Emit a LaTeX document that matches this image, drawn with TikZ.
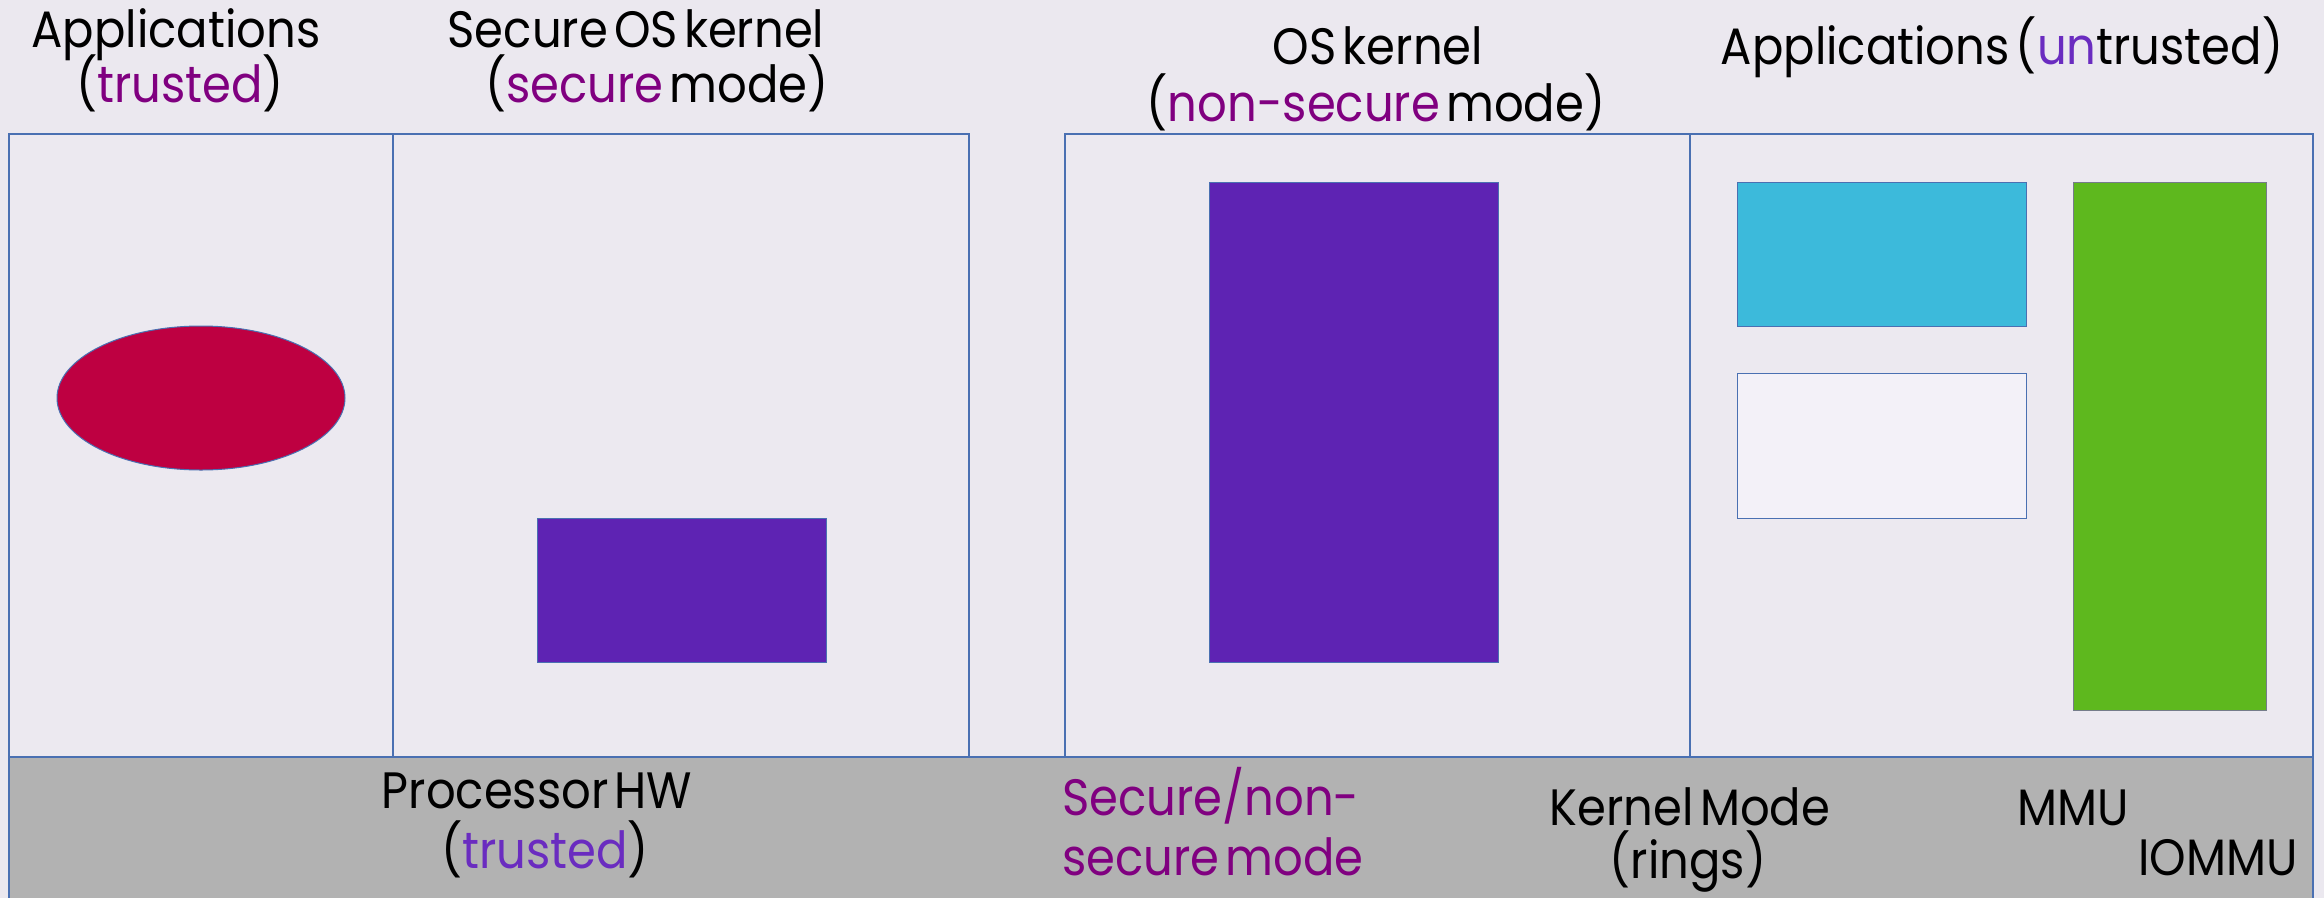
\documentclass[tikz,border=0pt]{standalone}
\usepackage{graphicx}
\usepackage{fontspec}
\setmainfont{Poppins}[WordSpace=0.5]
\definecolor{bg}{HTML}{EBE8EF}
\definecolor{boxfill}{HTML}{ECE9F0}
\definecolor{edge}{HTML}{4A70B2}
\definecolor{hwgray}{HTML}{B2B2B2}
\definecolor{violetfill}{HTML}{5E23B3}
\definecolor{redfill}{HTML}{BE0041}
\definecolor{cyanfill}{HTML}{3CBADB}
\definecolor{greenfill}{HTML}{5EB81E}
\definecolor{palefill}{HTML}{F3F1F8}
\definecolor{txtpurple}{HTML}{800080}
\definecolor{txtviolet}{HTML}{6A2CC0}
\newcommand\tallt[1]{\scalebox{1}[1.1]{#1}}
\begin{document}
\begin{tikzpicture}[x=1pt,y=-1pt,
  lbl/.style={anchor=base,inner sep=0pt,font=\fontsize{46.5}{56}\selectfont},
  lblw/.style={lbl,anchor=base west},
  frame/.style={draw=edge,line width=1.5pt},
  inshape/.style={draw=edge,line width=1pt}]
\useasboundingbox[fill=bg] (0,0) rectangle (2324,898);
% top boxes
\draw[frame,fill=boxfill] (9,134) rectangle (969,757);
\draw[frame] (393,134) -- (393,757);
\draw[frame,fill=boxfill] (1065,134) rectangle (2313,757);
\draw[frame] (1690,134) -- (1690,757);
% processor band
\fill[hwgray] (9,757) rectangle (2313,898);
\draw[frame,line width=2.5pt] (9,757) -- (2313,757);
\draw[frame] (9,757) -- (9,898);
\draw[frame] (2313,757) -- (2313,898);
% inner shapes
\draw[inshape,fill=redfill] (201,398) ellipse [x radius=144, y radius=72];
\draw[inshape,fill=violetfill] (537,518) rectangle (826,662);
\draw[inshape,fill=violetfill] (1209,182) rectangle (1498,662);
\draw[inshape,fill=cyanfill] (1737,182) rectangle (2026,326);
\draw[inshape,fill=palefill] (1737,373) rectangle (2026,518);
\draw[inshape,draw=gray!80!edge,fill=greenfill] (2073,182) rectangle (2266,710);
% titles
\node[lbl] (t1a) at (176,47) {\tallt{Applications}};
\node[lbl] (t1b) at (180,102) {\tallt{(\textcolor{txtpurple}{trusted})}};
\node[lbl] (t2a) at (636,47) {\tallt{Secure OS kernel}};
\node[lbl] (t2b) at (657,102) {\tallt{(\textcolor{txtpurple}{secure} mode)}};
\node[lbl] (t3a) at (1378,64) {\tallt{OS kernel}};
\node[lbl] (t3b) at (1376,121) {\tallt{(\textcolor{txtpurple}{non-secure} mode)}};
\node[lbl] (t4) at (2002,64) {\tallt{Applications (\textcolor{txtviolet}{un}trusted)}};
% hardware labels
\node[lbl] (h1a) at (537,808) {\tallt{Processor HW}};
\node[lbl] (h1b) at (545,868) {\tallt{(\textcolor{txtviolet}{trusted})}};
\node[lblw,text=txtpurple] (h2a) at (1062,815) {\tallt{Secure/non-}};
\node[lblw,text=txtpurple] (h2b) at (1062,875) {\tallt{secure mode}};
\node[lbl] (h3a) at (1690,825) {\tallt{Kernel Mode}};
\node[lbl] (h3b) at (1688,878) {\tallt{(rings)}};
\node[lbl] (h4) at (2073,825) {\tallt{MMU}};
\node[lbl] (h5) at (2218,875) {\tallt{IOMMU}};
\end{tikzpicture}
\end{document}
